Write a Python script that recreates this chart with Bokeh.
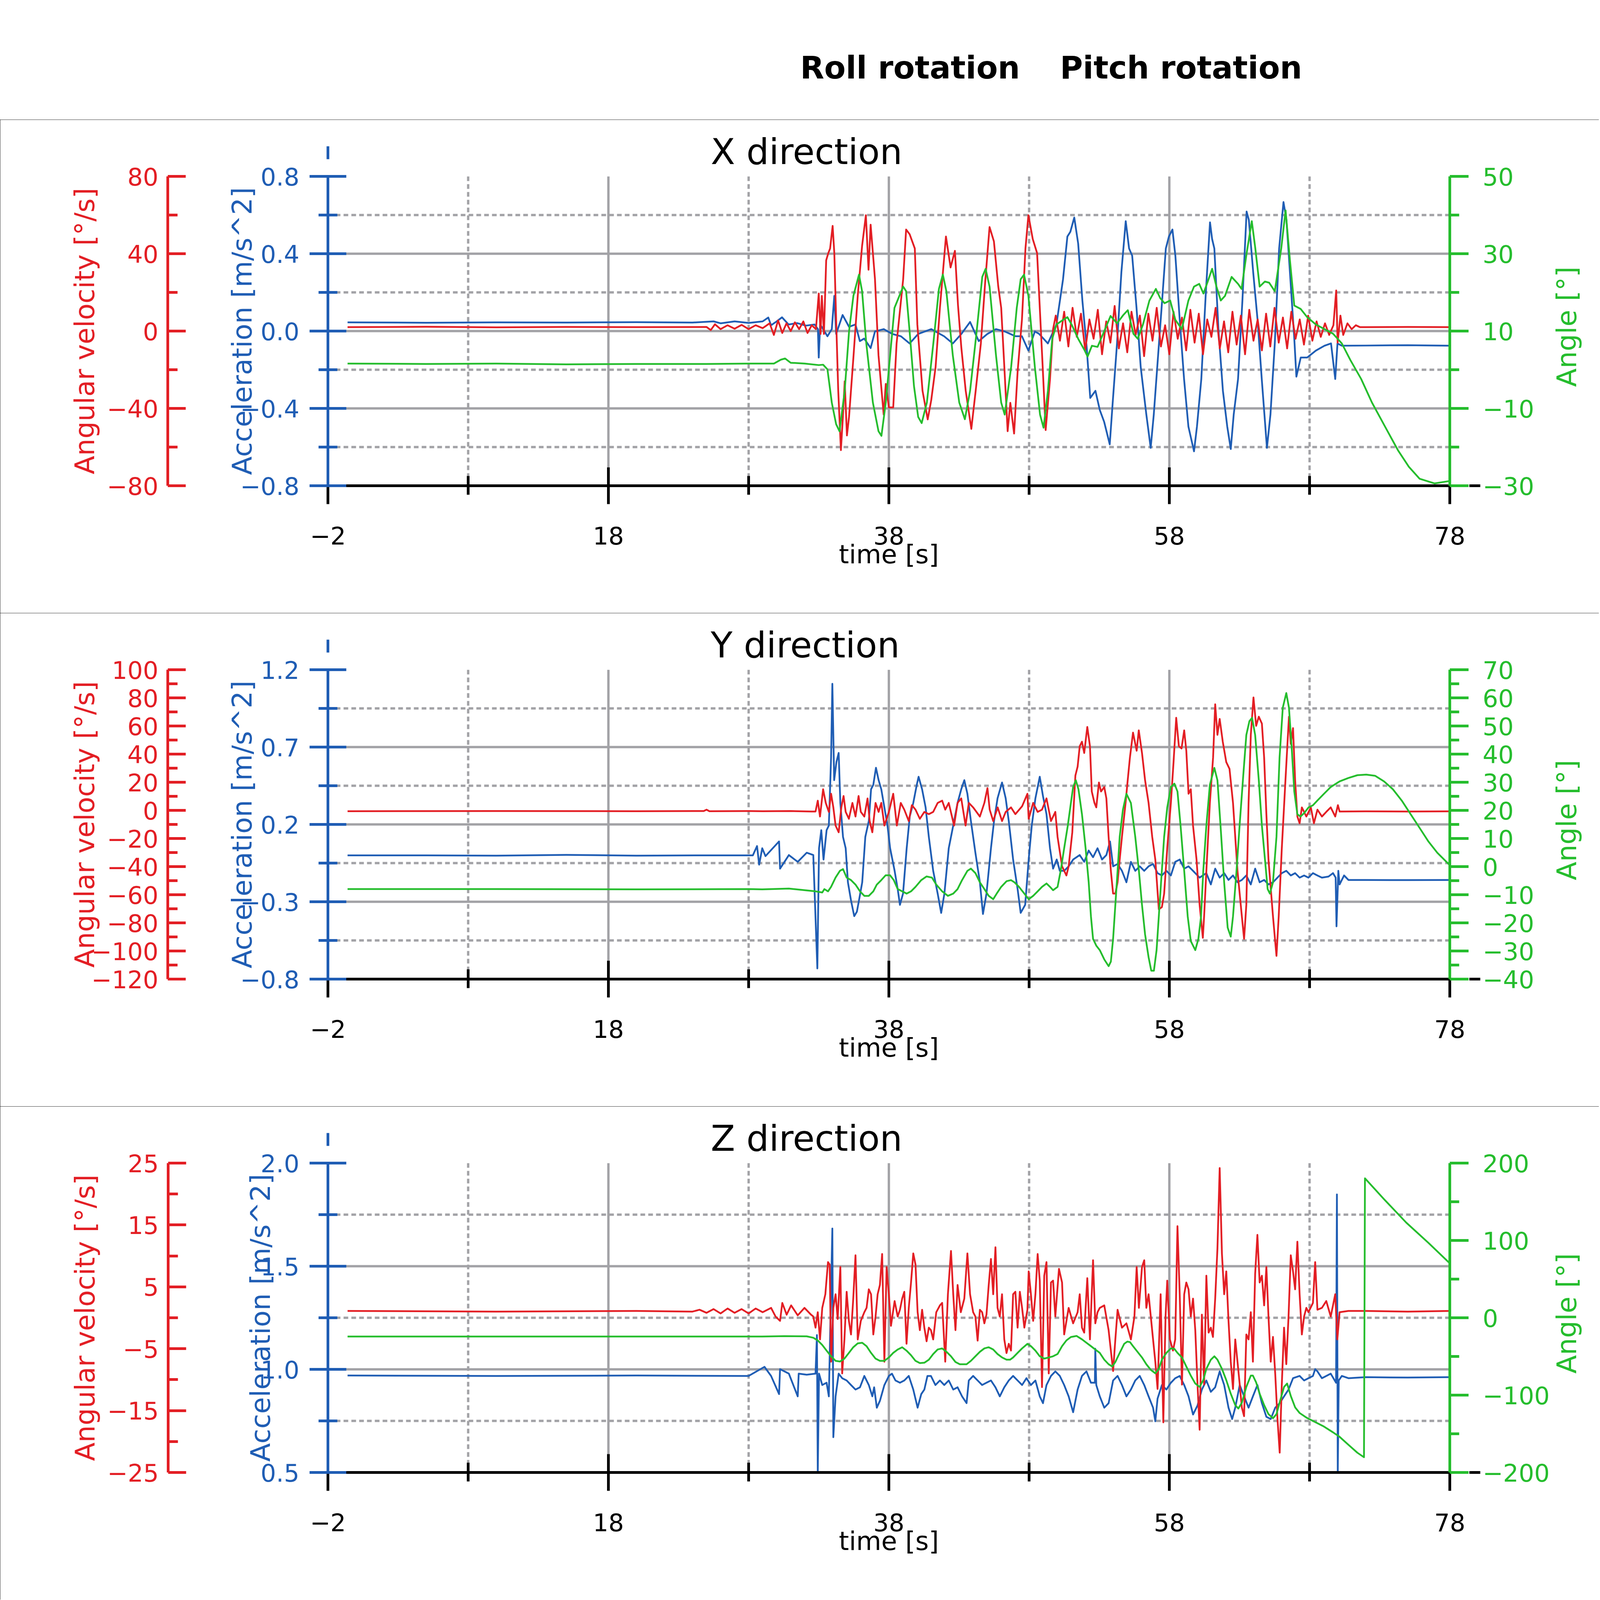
import math
from bokeh.plotting import figure
from bokeh.models import Range1d, LinearAxis, FixedTicker, Label, Arrow, NormalHead, TeeHead, Grid
from bokeh.layouts import column
from bokeh.embed import file_html
from bokeh.resources import INLINE

RED = "#e31e24"
BLUE = "#1f5db4"
GREEN = "#25bd2d"
GRAY = "#a2a2a6"
FONT = "DejaVu Sans"

legend_labels = ["Roll rotation", "Pitch rotation"]
panel_titles = ["X direction", "Y direction", "Z direction"]
time_label = "time [s]"
gyro_label = "Angular velocity [°/s]"
acc_label = "Acceleration [m/s^2]"
angle_label = "Angle [°]"

time_ticks = [-2, 18, 38, 58, 78]
time_minor = [8, 28, 48, 68]
time_tick_labels = ["−2", "18", "38", "58", "78"]

# ---------------- X direction ----------------
x_acc_ticks = [-0.8, -0.4, 0.0, 0.4, 0.8]
x_acc_minor = [-0.6, -0.2, 0.2, 0.6]
x_acc_labels = ["−0.8", "−0.4", "0.0", "0.4", "0.8"]
x_gyro_ticks = [-80, -40, 0, 40, 80]
x_gyro_minor = [-60, -20, 20, 60]
x_gyro_labels = ["−80", "−40", "0", "40", "80"]
x_ang_ticks = [-30, -10, 10, 30, 50]
x_ang_minor = [-20, 0, 20, 40]
x_ang_labels = ["−30", "−10", "10", "30", "50"]

x_gyro = [(-0.6, 2.0), (5, 2.2), (10, 1.9), (15, 2.1), (20, 2.0), (25, 2.1), (25.3, 0.5), (25.6, 3.5), (26, 1.0),
          (26.5, 3.0), (27, 1.2), (27.5, 3.2), (28, 1.0), (28.5, 3.0), (29, 1.5), (29.5, 4.0), (29.8, -2.0),
          (30.1, 5.5), (30.4, -1.0), (30.7, 4.0), (31.0, 0.0), (31.3, 4.5), (31.6, 1.0), (31.9, 5.0), (32.2, -1.0),
          (32.5, 3.0), (32.8, 1.0), (33.0, 19.4), (33.13, -1.5), (33.22, 18.2), (33.37, -1.5), (33.53, 36.6),
          (33.68, 40.3), (33.81, 42.7), (33.99, 54.4), (34.11, 40.3), (34.24, 5.9), (34.39, -30.9), (34.58, -61.6),
          (34.73, -43.2), (34.85, -26.0), (35.01, -54.0), (35.16, -44.4), (35.47, -13.8), (35.78, 18.2),
          (36.09, 44.0), (36.36, 59.9), (36.55, 31.7), (36.70, 55.0), (37.01, 26.8), (37.26, -12.5), (37.63, -43.2),
          (37.78, -27.3), (38.0, -39.5), (38.31, -39.5), (38.55, -6.4), (39.02, 26.8), (39.23, 52.5), (39.48, 50.1),
          (39.85, 42.7), (40.03, 3.4), (40.40, -30.9), (40.77, -45.7), (41.02, -35.8), (41.33, -18.7), (41.64, 12.0),
          (42.07, 48.9), (42.40, 32.9), (42.71, 41.5), (42.93, 13.3), (43.17, -8.8), (43.48, -30.9), (43.88, -50.6),
          (44.19, -30.9), (44.56, -6.4), (44.87, 25.5), (45.18, 53.8), (45.49, 46.4), (45.80, 23.1), (46.01, 12.0),
          (46.20, -13.8), (46.47, -51.8), (46.66, -37.1), (46.93, -53.0), (47.18, -21.1), (47.49, 5.9), (47.74, 42.7),
          (47.95, 59.9), (48.26, 47.6), (48.57, 40.3), (48.72, 18.2), (48.97, -18.7), (49.18, -51.2), (49.49, -24.8),
          (49.71, 1.0), (49.9, 8), (50.2, -5), (50.5, 10), (50.8, -8), (51.1, 12), (51.4, -3), (51.7, 9), (52.0, -10),
          (52.3, 6), (52.6, -4), (52.9, 11), (53.2, -12), (53.5, 5), (53.8, -6), (54.1, 13), (54.4, -9), (54.7, 4),
          (55.0, -11), (55.3, 10), (55.6, -2), (55.9, 8), (56.2, -13), (56.5, 9), (56.8, -5), (57.1, 12), (57.4, -8),
          (57.7, 3), (58.0, -12), (58.3, 10), (58.6, -4), (58.9, 7), (59.2, -10), (59.5, 11), (59.8, -6), (60.1, 9),
          (60.4, -12), (60.7, 6), (61.0, -3), (61.3, 12), (61.6, -9), (61.9, 5), (62.2, -11), (62.5, 10), (62.8, -7),
          (63.1, 8), (63.4, -12), (63.7, 11), (64.0, -5), (64.3, 6), (64.6, -10), (64.9, 9), (65.2, -8), (65.5, 12),
          (65.8, -6), (66.1, 7), (66.4, -9), (66.7, 10), (67.0, -4), (67.3, 6), (67.6, -7), (67.9, 8), (68.2, -5),
          (68.5, 5), (68.8, -3), (69.1, 4), (69.4, -2), (69.7, 3), (69.9, 21), (70.0, -6), (70.2, 8), (70.4, -2),
          (70.7, 4), (71.0, 1), (71.3, 3), (71.6, 2), (72, 2.0), (75, 2.1), (78, 2.0)]

x_acc = [(-0.6, 0.045), (5, 0.043), (10, 0.045), (15, 0.044), (20, 0.046), (24, 0.044), (25.5, 0.05), (26, 0.04),
         (27, 0.05), (28, 0.042), (29, 0.05), (29.4, 0.07), (29.6, 0.03), (30.0, 0.05), (30.38, 0.071),
         (30.85, 0.034), (31.46, 0.041), (32.08, 0.028), (32.70, 0.034), (32.94, 0.01), (33.0, -0.137),
         (33.10, 0.034), (33.31, 0.01), (33.62, -0.027), (33.93, 0.01), (34.11, 0.182), (34.24, -0.015),
         (34.70, 0.083), (35.16, 0.022), (35.62, 0.034), (35.93, -0.052), (36.24, -0.039), (36.70, -0.088),
         (37.01, -0.002), (37.63, 0.01), (38.25, -0.015), (38.86, -0.027), (39.48, -0.064), (40.09, -0.015),
         (41.02, 0.01), (41.94, -0.027), (42.56, -0.064), (43.17, -0.015), (43.79, 0.047), (44.41, -0.052),
         (45.02, -0.015), (45.64, 0.01), (46.26, -0.002), (47.03, -0.027), (47.49, -0.027), (47.95, -0.101),
         (48.41, -0.002), (48.72, -0.015), (49.34, -0.064), (49.95, 0.034), (50.42, 0.268), (50.73, 0.489),
         (50.94, 0.513), (51.22, 0.587), (51.50, 0.452), (51.80, 0.157), (52.11, -0.088), (52.36, -0.346),
         (52.73, -0.309), (53.04, -0.408), (53.35, -0.469), (53.75, -0.586), (53.96, -0.371), (54.27, -0.064),
         (54.58, 0.304), (54.89, 0.568), (55.13, 0.427), (55.35, 0.39), (55.66, 0.12), (55.96, -0.187),
         (56.36, -0.432), (56.67, -0.604), (56.89, -0.432), (57.20, -0.125), (57.51, 0.182), (57.75, 0.427),
         (57.97, 0.489), (58.22, 0.525), (58.43, 0.39), (58.74, 0.059), (59.05, -0.248), (59.36, -0.494),
         (59.76, -0.622), (59.97, -0.494), (60.28, -0.248), (60.59, 0.182), (60.90, 0.562), (61.05, 0.476),
         (61.21, 0.427), (61.51, -0.002), (61.82, -0.309), (62.13, -0.494), (62.38, -0.61), (62.59, -0.432),
         (62.90, -0.248), (63.21, 0.157), (63.51, 0.618), (63.67, 0.575), (63.98, 0.304), (64.29, 0.059),
         (64.59, -0.248), (64.96, -0.604), (65.21, -0.432), (65.52, -0.064), (65.83, 0.427), (66.14, 0.667),
         (66.35, 0.575), (66.60, 0.304), (66.91, -0.039), (67.06, -0.236), (67.37, -0.137), (67.83, -0.137),
         (68.45, -0.101), (69.06, -0.076), (69.53, -0.064), (69.83, -0.248), (69.99, -0.064), (70.30, -0.076),
         (72, -0.075), (75, -0.073), (78, -0.076)]

x_ang = [(-0.6, 1.6), (5, 1.5), (10, 1.6), (15, 1.4), (20, 1.5), (25, 1.5), (28, 1.6), (29.8, 1.6), (30.3, 2.6),
         (30.6, 2.9), (31, 1.8), (32, 1.6), (33, 1.2), (33.31, 1.3), (33.62, 0.1), (33.93, -8.5), (34.24, -14.1),
         (34.48, -15.9), (34.85, -5.5), (35.16, 9.9), (35.47, 19.1), (35.87, 24.6), (36.09, 20.3), (36.39, 6.8),
         (36.86, -8.5), (37.26, -15.9), (37.47, -17.1), (37.78, -8.5), (38.09, 3.7), (38.40, 16.0), (39.02, 21.5),
         (39.23, 20.3), (39.48, 9.9), (39.79, -4.2), (40.09, -12.2), (40.34, -13.8), (40.71, -8.5), (41.17, 6.8),
         (41.57, 20.9), (41.85, 24.6), (42.10, 20.3), (42.56, 3.7), (43.02, -8.5), (43.42, -12.8), (43.79, -5.5),
         (44.26, 9.9), (44.66, 24.0), (44.90, 26.1), (45.18, 21.5), (45.64, 3.7), (46.01, -8.5), (46.26, -11.6),
         (46.72, 0.7), (47.12, 16.0), (47.40, 23.4), (47.64, 24.6), (47.95, 19.1), (48.41, 0.7), (48.78, -11.6),
         (49.03, -15.0), (49.34, -5.5), (49.65, 8.0), (49.95, 11.7), (50.42, 12.9), (50.73, 13.6), (51.03, 11.7),
         (51.50, 8.0), (51.96, 5.0), (52.17, 3.4), (52.48, 6.2), (52.88, 5.9), (53.35, 9.9), (53.81, 13.9),
         (54.27, 12.0), (54.73, 14.2), (55.04, 15.4), (55.44, 9.3), (55.75, 8.0), (56.12, 11.7), (56.58, 17.9),
         (57.04, 20.9), (57.35, 18.5), (57.66, 17.2), (58.06, 17.9), (58.43, 12.9), (58.89, 10.5), (59.36, 17.9),
         (59.76, 21.5), (60.13, 22.2), (60.43, 19.7), (60.74, 22.8), (61.05, 26.1), (61.36, 21.5), (61.67, 17.9),
         (61.97, 19.1), (62.44, 24.0), (62.90, 22.2), (63.15, 20.9), (63.51, 30.1), (63.88, 38.4), (64.13, 31.4),
         (64.44, 21.5), (64.81, 22.8), (65.12, 22.5), (65.52, 20.3), (65.98, 31.4), (66.29, 41.2), (66.60, 28.3),
         (66.91, 16.6), (67.37, 15.7), (67.83, 13.6), (68.45, 11.7), (69.06, 10.5), (69.68, 9.3), (70.30, 6.8),
         (70.91, 2.5), (71.68, -2.4), (72.45, -8.5), (73.38, -14.7), (74.30, -20.8), (75.08, -25.1), (75.85, -28.2),
         (76.92, -29.4), (77.94, -28.8)]

# ---------------- Y direction ----------------
y_acc_ticks = [-0.8, -0.3, 0.2, 0.7, 1.2]
y_acc_minor = [-0.55, -0.05, 0.45, 0.95]
y_acc_labels = ["−0.8", "−0.3", "0.2", "0.7", "1.2"]
y_gyro_ticks = [-120, -100, -80, -60, -40, -20, 0, 20, 40, 60, 80, 100]
y_gyro_minor = [-110, -90, -70, -50, -30, -10, 10, 30, 50, 70, 90]
y_gyro_labels = ["−120", "−100", "−80", "−60", "−40", "−20", "0", "20", "40", "60", "80", "100"]
y_ang_ticks = [-40, -30, -20, -10, 0, 10, 20, 30, 40, 50, 60, 70]
y_ang_minor = [-35, -25, -15, -5, 5, 15, 25, 35, 45, 55, 65]
y_ang_labels = ["−40", "−30", "−20", "−10", "0", "10", "20", "30", "40", "50", "60", "70"]

y_gyro = [(-0.6, -0.6), (10, -0.5), (20, -0.6), (24.8, -0.5), (25.0, 0.5), (25.2, -0.6), (28, -0.5), (29, -0.6),
          (31, -0.5), (32.5, -0.8), (32.77, -0.8), (32.93, 6.9), (33.09, -4.4), (33.31, 15.0), (33.50, 5.3),
          (33.72, -1.1), (33.88, 11.8), (34.04, 2.1), (34.20, -10.8), (34.42, -15.6), (34.61, 2.1), (34.77, 10.2),
          (34.92, -1.1), (35.15, -6.0), (35.40, 5.3), (35.62, -4.4), (35.84, 10.2), (36.00, -1.1), (36.25, -4.4),
          (36.48, 8.5), (36.63, -7.6), (36.82, -15.6), (37.05, 5.3), (37.27, -1.1), (37.46, 5.3), (37.68, -10.8),
          (38.00, -1.1), (38.31, 11.8), (38.57, -10.8), (38.85, 5.3), (39.10, 0.5), (39.42, -7.6), (39.64, 3.7),
          (39.90, 0.5), (40.21, -6.0), (40.53, -1.1), (40.85, -2.7), (41.16, -1.1), (41.48, 5.3), (41.80, 6.9),
          (42.02, 0.5), (42.27, 5.3), (42.65, -10.8), (42.90, 5.3), (43.16, 8.5), (43.47, -10.8), (43.70, 5.3),
          (44.01, 2.1), (44.49, -4.4), (44.81, 5.3), (45.03, 15.8), (45.19, 0.5), (45.44, -7.6), (45.76, 2.1),
          (46.07, -7.6), (46.33, -1.1), (46.71, 2.1), (47.02, -2.7), (47.50, 2.9), (47.88, 11.8), (47.97, -6.0),
          (48.29, 5.3), (48.61, -1.1), (48.92, 0.5), (49.24, 8.5), (49.56, -7.6), (49.87, -1.1), (50.03, -18.9),
          (50.35, -39.8), (50.66, -46.3), (50.82, -39.8), (51.08, -15.6), (51.30, 24.7), (51.46, 31.1),
          (51.61, 45.6), (51.77, 48.8), (51.93, 40.8), (52.15, 59.3), (52.34, 45.6), (52.47, 13.4), (52.66, 5.3),
          (52.79, 2.1), (52.98, 19.8), (53.13, 13.4), (53.36, 16.6), (53.51, 8.5), (53.67, -18.9), (53.83, -43.0),
          (53.99, -59.2), (54.15, -59.2), (54.31, -51.1), (54.46, -35.0), (54.62, -18.9), (54.88, 5.3),
          (55.00, 18.2), (55.19, 37.6), (55.41, 55.3), (55.67, 42.4), (55.82, 56.9), (56.05, 40.8), (56.27, 21.4),
          (56.52, 5.3), (56.78, -18.9), (57.00, -35.0), (57.25, -70.4), (57.47, -68.8), (57.63, -59.2),
          (57.85, -26.9), (58.11, 5.3), (58.30, 34.3), (58.49, 65.8), (58.68, 45.6), (58.87, 44.0), (59.06, 56.9),
          (59.21, 42.4), (59.37, 11.8), (59.53, 15.0), (59.69, -10.8), (59.94, -35.0), (60.16, -67.2),
          (60.39, -90.6), (60.48, -75.3), (60.64, -43.0), (60.89, 5.3), (61.12, 37.6), (61.27, 75.4), (61.43, 53.7),
          (61.59, 65.0), (61.81, 48.8), (62.06, 34.3), (62.29, 29.5), (62.54, 5.3), (62.86, -43.0), (63.17, -75.3),
          (63.33, -91.4), (63.49, -67.2), (63.65, 5.3), (63.81, 53.7), (64.00, 80.3), (64.19, 60.1), (64.38, 66.6),
          (64.60, 61.7), (64.76, 37.6), (64.92, -2.7), (65.07, -35.0), (65.39, -75.3), (65.64, -103.5),
          (65.80, -75.3), (66.02, -26.9), (66.28, 21.4), (66.53, 66.6), (66.66, 47.2), (66.82, 58.5), (66.97, 21.4),
          (67.13, -4.4), (67.29, -9.2), (67.45, 2.1), (67.77, -4.4), (68.09, 2.1), (68.31, -9.2), (68.56, 0.5),
          (68.88, -4.4), (69.19, -1.1), (69.51, 2.1), (69.83, -4.4), (70.02, 3.7), (70.14, -0.8), (72, -0.7),
          (75, -0.8), (78, -0.7)]

y_acc = [(-0.6, 0.0), (5, 0.0), (10, -0.002), (15, 0.003), (20, -0.002), (25, 0.0), (28.3, 0.0), (28.6, 0.06),
         (28.75, -0.06), (28.97, 0.046), (29.2, -0.005), (30.17, 0.09), (30.24, -0.086), (30.87, 0.002),
         (31.50, -0.042), (32.14, 0.017), (32.61, 0.002), (32.90, -0.731), (33.02, 0.046), (33.18, 0.163),
         (33.34, -0.027), (33.56, 0.163), (33.72, 0.193), (33.88, 0.632), (33.97, 1.109), (34.10, 0.486),
         (34.26, 0.603), (34.42, 0.662), (34.54, 0.339), (34.73, 0.119), (34.92, 0.046), (35.08, -0.174),
         (35.30, -0.291), (35.53, -0.393), (35.72, -0.364), (35.87, -0.291), (36.10, -0.174), (36.32, 0.119),
         (36.57, 0.222), (36.73, 0.427), (36.89, 0.456), (37.08, 0.566), (37.27, 0.486), (37.46, 0.427),
         (37.68, 0.310), (37.90, 0.193), (38.09, 0.046), (38.41, -0.100), (38.63, -0.218), (38.79, -0.320),
         (39.01, -0.247), (39.27, 0.046), (39.49, 0.251), (39.74, 0.339), (39.99, 0.456), (40.12, 0.508),
         (40.37, 0.427), (40.62, 0.310), (40.85, 0.119), (41.16, -0.100), (41.48, -0.247), (41.73, -0.372),
         (41.96, -0.247), (42.27, 0.046), (42.59, 0.193), (42.90, 0.339), (43.16, 0.427), (43.38, 0.486),
         (43.60, 0.398), (43.85, 0.222), (44.17, 0.017), (44.49, -0.174), (44.71, -0.379), (44.96, -0.247),
         (45.28, 0.046), (45.50, 0.222), (45.75, 0.369), (46.07, 0.471), (46.33, 0.369), (46.55, 0.222),
         (46.86, -0.027), (47.18, -0.218), (47.40, -0.372), (47.72, -0.320), (47.97, -0.027), (48.19, 0.193),
         (48.45, 0.369), (48.76, 0.508), (48.99, 0.383), (49.24, 0.266), (49.49, 0.046), (49.71, -0.086),
         (49.97, -0.027), (50.19, -0.100), (50.50, -0.100), (50.82, -0.071), (51.14, -0.027), (51.61, 0.002),
         (51.93, -0.042), (52.25, 0.031), (52.56, -0.012), (52.88, 0.046), (53.20, -0.027), (53.51, 0.002),
         (53.77, 0.090), (53.99, -0.071), (54.31, -0.056), (54.62, -0.100), (54.94, -0.174), (55.26, -0.042),
         (55.57, -0.100), (55.89, -0.071), (56.21, -0.100), (56.52, -0.071), (56.84, -0.056), (57.16, -0.115),
         (57.47, -0.130), (57.79, -0.100), (58.11, -0.130), (58.42, -0.042), (58.74, -0.027), (59.06, -0.086),
         (59.37, -0.071), (59.69, -0.100), (60.16, -0.144), (60.64, -0.115), (60.96, -0.188), (61.27, -0.086),
         (61.59, -0.144), (61.91, -0.115), (62.22, -0.159), (62.54, -0.130), (62.86, -0.174), (63.17, -0.159),
         (63.49, -0.130), (63.81, -0.188), (64.12, -0.086), (64.44, -0.174), (64.76, -0.159), (65.07, -0.188),
         (65.39, -0.174), (65.71, -0.144), (66.02, -0.115), (66.34, -0.100), (66.66, -0.130), (66.97, -0.115),
         (67.29, -0.144), (67.61, -0.130), (67.92, -0.144), (68.24, -0.115), (68.56, -0.130), (68.88, -0.144),
         (69.35, -0.137), (69.67, -0.115), (69.86, -0.144), (69.92, -0.459), (70.05, -0.100), (70.14, -0.188),
         (70.46, -0.130), (70.77, -0.159), (72, -0.159), (75, -0.16), (78, -0.159)]

y_ang = [(-0.6, -8.0), (10, -8.0), (20, -8.1), (28, -8.0), (28.97, -8.1), (30.87, -7.8), (32.77, -8.8),
         (33.25, -9.2), (33.40, -8.0), (33.66, -8.8), (33.88, -7.2), (34.20, -3.9), (34.51, -1.5), (34.73, -0.9),
         (34.99, -3.9), (35.30, -4.8), (35.62, -6.4), (35.94, -8.8), (36.25, -10.4), (36.57, -10.4), (36.89, -8.8),
         (37.14, -6.4), (37.46, -4.8), (37.77, -3.1), (38.09, -3.1), (38.35, -4.8), (38.63, -8.0), (38.95, -8.8),
         (39.27, -9.6), (39.58, -8.8), (39.90, -7.2), (40.31, -4.8), (40.69, -3.5), (41.07, -3.9), (41.38, -6.4),
         (41.80, -8.8), (42.21, -10.4), (42.59, -9.6), (42.90, -8.0), (43.22, -4.8), (43.60, -1.5), (43.85, -0.7),
         (44.17, -2.3), (44.49, -5.6), (44.81, -8.0), (45.12, -10.4), (45.44, -11.6), (45.69, -9.6), (46.01, -7.2),
         (46.39, -5.2), (46.71, -4.8), (46.96, -5.6), (47.28, -7.2), (47.66, -9.6), (47.97, -11.6), (48.29, -10.4),
         (48.61, -8.8), (48.92, -7.2), (49.24, -6.0), (49.49, -7.2), (49.71, -8.4), (50.03, -7.2), (50.25, -1.5),
         (50.50, 6.5), (50.76, 14.6), (50.98, 22.6), (51.14, 28.3), (51.33, 30.7), (51.52, 27.5), (51.77, 18.6),
         (52.03, 6.5), (52.25, -5.6), (52.41, -17.7), (52.56, -25.7), (52.79, -28.1), (53.04, -29.7), (53.36, -33.0),
         (53.67, -35.4), (53.83, -33.8), (53.99, -25.7), (54.15, -13.6), (54.31, -1.5), (54.46, 10.6), (54.69, 20.2),
         (54.94, 25.9), (55.26, 22.6), (55.57, 10.6), (55.83, -1.5), (56.05, -13.6), (56.27, -24.1), (56.52, -32.2),
         (56.71, -37.0), (56.90, -37.0), (57.09, -29.7), (57.25, -17.7), (57.41, -5.6), (57.63, 10.6), (57.85, 21.0),
         (58.11, 28.3), (58.36, 29.5), (58.58, 26.7), (58.80, 14.6), (59.06, -1.5), (59.31, -17.7), (59.53, -26.5),
         (59.85, -29.7), (60.07, -25.7), (60.26, -17.7), (60.42, -1.5), (60.64, 14.6), (60.89, 29.1), (61.21, 35.1),
         (61.43, 30.7), (61.65, 14.6), (61.91, -5.6), (62.16, -21.7), (62.38, -24.9), (62.54, -17.7), (62.79, -1.5),
         (63.01, 14.6), (63.27, 32.3), (63.49, 46.8), (63.71, 51.7), (63.90, 52.9), (64.12, 46.8), (64.38, 30.7),
         (64.60, 14.6), (64.82, 2.5), (65.01, -8.0), (65.17, -9.6), (65.39, -5.6), (65.64, 10.6), (65.86, 38.8),
         (66.09, 56.5), (66.34, 61.7), (66.53, 56.5), (66.72, 42.8), (66.91, 26.7), (67.13, 18.6), (67.35, 17.8),
         (67.61, 19.0), (67.92, 21.0), (68.24, 21.8), (68.56, 23.5), (69.03, 25.9), (69.51, 28.3), (70.14, 30.3),
         (70.77, 31.5), (71.41, 32.5), (72.04, 32.7), (72.67, 32.3), (73.31, 30.3), (73.94, 27.5), (74.57, 23.5),
         (75.21, 18.6), (75.84, 13.8), (76.48, 8.9), (77.11, 4.9), (78.0, 0.5)]

# ---------------- Z direction ----------------
z_acc_ticks = [0.5, 1.0, 1.5, 2.0]
z_acc_minor = [0.75, 1.25, 1.75]
z_acc_labels = ["0.5", "1.0", "1.5", "2.0"]
z_gyro_ticks = [-25, -15, -5, 5, 15, 25]
z_gyro_minor = [-20, -10, 0, 10, 20]
z_gyro_labels = ["−25", "−15", "−5", "5", "15", "25"]
z_ang_ticks = [-200, -100, 0, 100, 200]
z_ang_minor = [-150, -50, 50, 150]
z_ang_labels = ["−200", "−100", "0", "100", "200"]

z_gyro = [(-0.6, 1.1), (10, 1.0), (20, 1.1), (24, 1.0), (24.5, 1.3), (25, 0.8), (25.5, 1.4), (26, 0.7), (26.5, 1.5),
          (27, 0.8), (27.5, 1.4), (28, 0.7), (28.5, 1.5), (29, 0.9), (29.60, 1.6), (29.92, 0.2), (30.24, -0.5),
          (30.40, 2.4), (30.71, 0.5), (31.03, 2.0), (31.50, 0.4), (31.98, 1.6), (32.45, 0.5), (32.61, 0.2),
          (32.77, -1.6), (32.93, 0.9), (33.09, -3.5), (33.25, 1.6), (33.47, 3.8), (33.66, 9.0), (33.78, 8.6),
          (33.88, -7.1), (34.04, 1.6), (34.20, 3.8), (34.35, -0.2), (34.54, 8.2), (34.67, -9.0), (34.83, -3.5),
          (34.99, 4.2), (35.15, -0.5), (35.30, -2.7), (35.46, 3.1), (35.62, 10.1), (35.78, -3.5), (36.00, -0.5),
          (36.25, 0.9), (36.41, 1.6), (36.57, 4.6), (36.73, 3.8), (36.89, -2.7), (37.05, 0.2), (37.20, 3.8),
          (37.36, 5.3), (37.52, 10.3), (37.68, -7.1), (37.84, 8.2), (38.00, 3.8), (38.15, -1.3), (38.41, 2.7),
          (38.63, 0.2), (38.79, 1.3), (38.95, 3.1), (39.10, 4.2), (39.26, -4.2), (39.42, 1.6), (39.58, 5.7),
          (39.74, 10.4), (39.90, 8.6), (40.05, 0.9), (40.21, -2.0), (40.37, 1.3), (40.53, -1.6), (40.69, -3.8),
          (40.85, -1.6), (41.00, -2.0), (41.16, -3.5), (41.38, 0.9), (41.64, 2.0), (41.80, 2.4), (42.02, -7.1),
          (42.21, 3.8), (42.43, 10.8), (42.59, 3.8), (42.75, -2.0), (42.90, 5.3), (43.13, 0.9), (43.38, 3.1),
          (43.60, 10.4), (43.79, 3.8), (44.01, 0.9), (44.17, 0.2), (44.33, -3.7), (44.49, 1.3), (44.65, 0.9),
          (44.81, -0.9), (44.96, 0.5), (45.12, 5.3), (45.28, 9.5), (45.44, 3.8), (45.60, 11.4), (45.75, 1.6),
          (45.91, 0.2), (46.07, 3.8), (46.23, -3.5), (46.39, -5.7), (46.55, -4.2), (46.71, -5.3), (46.86, 3.8),
          (47.02, 4.2), (47.18, -1.6), (47.34, 4.2), (47.50, 1.6), (47.66, -1.6), (47.88, 1.3), (47.97, 7.5),
          (48.13, 3.8), (48.29, -0.5), (48.45, 3.8), (48.61, 10.3), (48.76, 6.0), (48.92, -11.2), (49.08, 6.8),
          (49.24, 9.0), (49.40, -9.0), (49.56, 5.7), (49.71, 6.0), (49.87, 0.2), (50.13, 7.9), (50.35, 5.7),
          (50.50, -2.7), (50.82, 1.6), (51.14, -0.9), (51.46, 0.9), (51.61, 3.8), (51.77, -1.6), (51.93, -2.4),
          (52.15, 6.4), (52.34, -3.5), (52.56, 9.3), (52.72, -0.9), (52.88, 0.9), (53.04, 1.6), (53.36, 2.0),
          (53.67, -2.0), (53.99, -8.6), (54.15, -3.5), (54.31, 1.3), (54.62, -1.6), (54.94, -0.9), (55.26, -3.5),
          (55.51, 0.2), (55.67, 8.2), (55.83, 1.6), (56.05, 8.2), (56.21, 9.3), (56.36, 1.6), (56.52, 3.8),
          (56.84, -3.5), (57.00, -7.1), (57.16, -11.5), (57.38, 3.8), (57.57, -16.9), (57.73, 0.2), (57.85, 6.0),
          (58.04, -3.5), (58.26, -5.3), (58.42, -3.5), (58.58, 14.8), (58.74, 3.8), (58.90, -10.8), (59.06, 3.8),
          (59.21, 5.7), (59.37, 4.6), (59.53, 0.2), (59.69, 3.1), (59.85, -2.0), (60.01, -10.8), (60.16, -18.1),
          (60.32, 0.5), (60.48, -10.8), (60.64, 6.8), (60.80, -2.4), (60.96, -1.6), (61.11, -3.1), (61.27, 3.1),
          (61.43, 11.2), (61.59, 24.2), (61.75, 10.4), (61.91, 3.8), (62.06, 7.5), (62.22, -0.5), (62.38, -7.1),
          (62.54, -11.5), (62.70, -3.5), (62.86, -7.1), (63.02, -10.8), (63.17, -14.5), (63.33, -15.9),
          (63.49, -2.7), (63.65, -3.5), (63.81, 0.9), (63.96, -7.1), (64.12, 7.1), (64.28, 13.4), (64.44, 5.7),
          (64.60, 6.8), (64.76, 2.0), (64.92, 8.2), (65.07, 0.2), (65.23, -7.1), (65.39, -3.1), (65.55, -9.0),
          (65.71, -16.3), (65.87, -21.8), (66.02, -10.8), (66.18, -1.6), (66.34, -7.5), (66.50, 0.2), (66.66, 10.1),
          (66.82, 7.5), (66.97, 4.6), (67.13, 12.3), (67.29, 3.8), (67.45, -2.7), (67.61, 0.2), (67.77, 1.6),
          (67.92, 0.9), (68.24, 2.4), (68.40, 9.0), (68.56, 1.3), (68.88, 1.6), (69.19, 2.7), (69.51, 0.2),
          (69.83, 3.8), (69.98, -3.5), (70.14, 0.9), (70.77, 1.1), (72, 1.1), (75, 1.0), (78, 1.1)]

z_acc = [(-0.6, 0.97), (10, 0.968), (20, 0.97), (28, 0.968), (29.13, 1.012), (29.60, 0.968), (30.17, 0.880),
         (30.24, 1.001), (30.87, 0.979), (31.50, 0.869), (31.57, 0.979), (32.14, 0.974), (32.77, 0.979),
         (32.87, 1.166), (32.93, 0.495), (33.02, 0.979), (33.25, 0.924), (33.56, 0.935), (33.72, 0.869),
         (33.97, 1.683), (34.04, 0.671), (34.20, 0.869), (34.42, 0.979), (34.67, 0.957), (34.99, 0.946),
         (35.30, 0.924), (35.62, 0.902), (35.94, 0.913), (36.25, 0.968), (36.57, 0.924), (36.82, 0.869),
         (36.95, 0.913), (37.14, 0.814), (37.36, 0.847), (37.68, 0.924), (38.00, 0.968), (38.22, 0.979),
         (38.47, 0.946), (38.79, 0.935), (39.10, 0.946), (39.42, 0.968), (39.74, 0.902), (40.05, 0.814),
         (40.31, 0.880), (40.53, 0.902), (40.75, 0.968), (41.00, 0.968), (41.32, 0.924), (41.64, 0.946),
         (41.95, 0.924), (42.27, 0.946), (42.59, 0.902), (42.90, 0.913), (43.22, 0.869), (43.54, 0.836),
         (43.70, 0.946), (44.01, 0.968), (44.33, 0.946), (44.65, 0.924), (44.96, 0.935), (45.28, 0.946),
         (45.60, 0.913), (45.91, 0.869), (46.23, 0.913), (46.55, 0.946), (46.86, 0.968), (47.18, 0.946),
         (47.50, 0.924), (47.81, 0.957), (48.13, 0.924), (48.45, 0.946), (48.76, 0.869), (48.99, 0.836),
         (49.24, 0.924), (49.56, 0.968), (49.87, 0.990), (50.19, 0.968), (50.50, 0.924), (50.82, 0.869),
         (51.14, 0.792), (51.46, 0.902), (51.77, 0.968), (52.09, 0.990), (52.41, 0.935), (52.69, 0.935),
         (52.72, 1.100), (52.79, 0.924), (53.04, 0.869), (53.36, 0.814), (53.67, 0.836), (53.99, 0.946),
         (54.31, 0.968), (54.62, 0.924), (54.94, 0.869), (55.26, 0.902), (55.57, 0.946), (55.89, 0.968),
         (56.21, 0.924), (56.52, 0.869), (56.84, 0.814), (57.00, 0.748), (57.16, 0.858), (57.47, 0.924),
         (57.79, 0.902), (58.11, 0.935), (58.42, 0.957), (58.74, 0.968), (59.06, 0.924), (59.37, 0.869),
         (59.69, 0.781), (60.01, 0.825), (60.32, 0.902), (60.64, 0.946), (60.96, 0.891), (61.27, 0.913),
         (61.59, 0.990), (61.91, 0.924), (62.22, 0.814), (62.48, 0.759), (62.70, 0.814), (63.02, 0.924),
         (63.33, 0.869), (63.65, 0.814), (63.96, 0.869), (64.28, 0.924), (64.60, 0.836), (64.92, 0.770),
         (65.23, 0.759), (65.55, 0.814), (65.87, 0.836), (66.18, 0.869), (66.50, 0.902), (66.82, 0.957),
         (67.29, 0.968), (67.61, 0.946), (67.92, 0.957), (68.24, 0.968), (68.40, 1.001), (68.56, 0.990),
         (68.88, 0.957), (69.19, 0.968), (69.51, 0.979), (69.89, 0.935), (69.95, 1.848), (70.01, 0.495),
         (70.08, 0.946), (70.30, 0.968), (70.77, 0.957), (72, 0.962), (75, 0.960), (78, 0.962)]

z_ang = [(-0.6, -24.3), (10, -24.3), (20, -24.2), (28, -24.3), (28.97, -24.3), (30.55, -23.7), (32.14, -24.0),
         (32.61, -25.8), (32.93, -29.3), (33.25, -35.2), (33.56, -42.5), (33.88, -49.8), (34.20, -55.7),
         (34.51, -56.6), (34.83, -52.8), (35.15, -45.4), (35.46, -38.1), (35.78, -33.1), (36.10, -32.3),
         (36.41, -36.7), (36.73, -45.4), (37.05, -52.8), (37.36, -55.7), (37.68, -55.7), (38.00, -51.3),
         (38.31, -45.4), (38.63, -41.0), (38.95, -38.1), (39.26, -42.5), (39.58, -48.4), (39.90, -55.7),
         (40.21, -58.6), (40.53, -58.1), (40.85, -54.2), (41.16, -46.9), (41.48, -41.0), (41.80, -39.6),
         (42.11, -44.0), (42.43, -49.8), (42.75, -57.2), (43.06, -60.1), (43.54, -60.1), (43.85, -55.7),
         (44.17, -49.8), (44.49, -44.0), (44.81, -39.6), (45.12, -38.1), (45.44, -41.0), (45.75, -46.9),
         (46.07, -51.3), (46.39, -54.2), (46.64, -54.2), (46.86, -51.3), (47.18, -45.4), (47.50, -39.6),
         (47.88, -33.7), (48.13, -36.7), (48.45, -42.5), (48.76, -49.8), (49.08, -52.8), (49.40, -51.3),
         (49.71, -49.8), (50.03, -46.9), (50.35, -36.7), (50.66, -29.3), (50.98, -24.9), (51.39, -23.5),
         (51.77, -27.9), (52.09, -32.3), (52.41, -36.7), (52.72, -41.0), (53.04, -45.4), (53.36, -54.2),
         (53.67, -60.1), (53.93, -63.0), (54.15, -57.2), (54.46, -45.4), (54.78, -33.7), (55.00, -30.8),
         (55.19, -31.4), (55.41, -36.7), (55.73, -44.0), (56.05, -51.3), (56.36, -60.1), (56.68, -67.4),
         (57.00, -71.8), (57.25, -66.0), (57.47, -54.2), (57.79, -45.4), (58.11, -39.6), (58.36, -40.2),
         (58.58, -45.4), (58.90, -51.3), (59.21, -63.0), (59.53, -74.8), (59.85, -85.0), (60.16, -89.4),
         (60.42, -80.6), (60.64, -66.0), (60.96, -54.2), (61.21, -49.8), (61.43, -54.2), (61.75, -66.0),
         (62.06, -80.6), (62.38, -98.2), (62.70, -112.9), (62.92, -117.3), (63.17, -109.9), (63.49, -89.4),
         (63.81, -74.8), (63.96, -74.8), (64.19, -83.6), (64.44, -98.2), (64.76, -112.9), (65.07, -124.6),
         (65.39, -129.9), (65.64, -124.6), (65.86, -109.9), (66.18, -89.4), (66.40, -85.0), (66.66, -101.1),
         (66.97, -115.8), (67.29, -123.1), (67.77, -129.0), (68.40, -134.9), (69.03, -140.7), (69.67, -148.1),
         (70.14, -153.9), (70.77, -164.2), (71.41, -174.5), (71.88, -180.3), (71.95, 180.3), (73.31, 153.3),
         (74.89, 123.1), (76.48, 96.8), (78.00, 70.4)]

# ---------------- layout (CSS pixels; the page is shown at about 1.152 device px per CSS px) ----------------
K = 1 / 1.152


def px(v):
    return int(round(v * K))


def fs(v):
    return "%.1fpx" % (v * K)


FRAME_L, FRAME_W, FRAME_R = 839, 2872, 380
FRAME_T, FRAME_H = 145, 792
PANEL_H = 1263
FRAME_B = PANEL_H - FRAME_T - FRAME_H
HEADER_H = 306
TICK_F = fs(72)
LW = px(8)


def style_axis(ax, color, tick_in, tick_out, minor_in, minor_out, standoff):
    ax.axis_line_color = color
    ax.axis_line_width = LW
    ax.major_tick_line_color = color
    ax.major_tick_line_width = LW
    ax.minor_tick_line_color = color
    ax.minor_tick_line_width = LW
    ax.major_tick_in = px(tick_in)
    ax.major_tick_out = px(tick_out)
    ax.minor_tick_in = px(minor_in)
    ax.minor_tick_out = px(minor_out)
    ax.major_label_standoff = px(standoff)
    ax.major_label_text_color = color
    ax.major_label_text_font_size = TICK_F
    ax.major_label_text_font = FONT


def label_style(ax, color, size, standoff):
    ax.axis_label_text_color = color
    ax.axis_label_text_font_size = fs(size)
    ax.axis_label_text_font = FONT
    ax.axis_label_text_font_style = "normal"
    ax.axis_label_standoff = px(standoff)


def make_panel(title, acc, gyro, ang, acc_t, acc_m, acc_l, gyro_t, gyro_m, gyro_l, ang_t, ang_m, ang_l,
               blue_so, spacer, red_so, green_so):
    p = figure(frame_width=FRAME_W, frame_height=FRAME_H, min_border_left=FRAME_L, min_border_right=FRAME_R,
               min_border_top=FRAME_T, min_border_bottom=FRAME_B, title=title,
               x_range=Range1d(time_ticks[0], time_ticks[-1]), y_range=Range1d(acc_t[0], acc_t[-1]),
               x_axis_type=None, y_axis_type=None, toolbar_location=None, output_backend="svg",
               outline_line_color=None, styles={"outline": "5px solid black", "outline-offset": "-5px"})
    p.title.text_font = FONT
    p.title.text_font_size = fs(105)
    p.title.text_font_style = "normal"
    p.title.text_color = "black"
    p.title.align = "left"
    p.title.offset = px(1129)
    p.title.standoff = px(25)
    p.extra_y_ranges = {"gyro": Range1d(gyro_t[0], gyro_t[-1]), "ang": Range1d(ang_t[0], ang_t[-1])}

    gx = Grid(dimension=0, ticker=FixedTicker(ticks=time_ticks[1:-1], minor_ticks=time_minor),
              grid_line_color=GRAY, grid_line_width=px(7), minor_grid_line_color=GRAY,
              minor_grid_line_width=px(7), minor_grid_line_dash="12 8")
    gy = Grid(dimension=1, ticker=FixedTicker(ticks=acc_t[1:-1], minor_ticks=acc_m),
              grid_line_color=GRAY, grid_line_width=px(7), minor_grid_line_color=GRAY,
              minor_grid_line_width=px(7), minor_grid_line_dash="12 8")
    p.add_layout(gx)
    p.add_layout(gy)

    # blue acceleration axis (closest to frame)
    ya = LinearAxis(ticker=FixedTicker(ticks=acc_t, minor_ticks=acc_m),
                    major_label_overrides=dict(zip(acc_t, acc_l)), axis_label=acc_label)
    style_axis(ya, BLUE, 54, 54, 28, 28, 30)
    label_style(ya, BLUE, 80, blue_so)
    p.add_layout(ya, "left")

    # empty spacer between the two left axes
    mid = (acc_t[0] + acc_t[-1]) / 2
    sp = LinearAxis(ticker=FixedTicker(ticks=[mid]), major_label_overrides={mid: ""}, major_tick_out=px(spacer),
                    major_tick_in=0, minor_tick_out=0, minor_tick_in=0, axis_line_color=None,
                    major_tick_line_color=None, minor_tick_line_color=None, major_label_standoff=0,
                    major_label_text_font_size="1px")
    p.add_layout(sp, "left")

    # red angular velocity axis
    yg = LinearAxis(y_range_name="gyro", ticker=FixedTicker(ticks=gyro_t, minor_ticks=gyro_m),
                    major_label_overrides=dict(zip(gyro_t, gyro_l)), axis_label=gyro_label)
    style_axis(yg, RED, 53, 0, 29, 0, 28)
    label_style(yg, RED, 80, red_so)
    p.add_layout(yg, "left")

    # green angle axis
    yr = LinearAxis(y_range_name="ang", ticker=FixedTicker(ticks=ang_t, minor_ticks=ang_m),
                    major_label_overrides=dict(zip(ang_t, ang_l)))
    style_axis(yr, GREEN, 0, 55, 0, 28, 41)
    p.add_layout(yr, "right")

    # green axis title, drawn as a single rotated tick label (text starts at the tick)
    gmid = (ang_t[0] + ang_t[-1]) / 2 - (ang_t[-1] - ang_t[0]) * 143 / FRAME_H
    gl = LinearAxis(y_range_name="ang", ticker=FixedTicker(ticks=[gmid]), major_label_overrides={gmid: angle_label},
                    major_label_orientation=math.pi / 2, major_tick_out=0, major_tick_in=0, minor_tick_out=0,
                    minor_tick_in=0, axis_line_color=None, major_tick_line_color=None, minor_tick_line_color=None,
                    major_label_standoff=px(green_so), major_label_text_color=GREEN,
                    major_label_text_font_size=fs(80), major_label_text_font=FONT)
    p.add_layout(gl, "right")

    # time axis
    xa = LinearAxis(ticker=FixedTicker(ticks=time_ticks, minor_ticks=time_minor),
                    major_label_overrides=dict(zip(time_ticks, time_tick_labels)), axis_label=time_label)
    style_axis(xa, "black", 54, 54, 29, 27, 66)
    label_style(xa, "black", 76, -19)
    p.add_layout(xa, "below")

    # data
    p.line([a for a, _ in acc], [b for _, b in acc], line_color=BLUE, line_width=4.5, line_join="round")
    p.line([a for a, _ in gyro], [b for _, b in gyro], line_color=RED, line_width=4.5, line_join="round",
           y_range_name="gyro")
    p.line([a for a, _ in ang], [b for _, b in ang], line_color=GREEN, line_width=4.5, line_join="round",
           y_range_name="ang")

    # stem of the acceleration-axis arrow: tee head of a short arrow along the top edge of the frame
    p.add_layout(Arrow(start_units="screen", end_units="screen", x_start=20, y_start=FRAME_H, x_end=0,
                       y_end=FRAME_H, line_color=BLUE, line_width=1,
                       end=TeeHead(size=2 * px(62), line_color=BLUE, line_width=LW)))
    # arrow tips
    p.add_layout(Arrow(start_units="screen", end_units="screen", x_start=0, y_start=FRAME_H, x_end=0,
                       y_end=FRAME_H + px(89), line_color=BLUE, line_width=LW,
                       end=NormalHead(size=px(38), fill_color=BLUE, line_color=BLUE, line_width=2)))
    p.add_layout(Arrow(start_units="screen", end_units="screen", x_start=FRAME_W, y_start=0,
                       x_end=FRAME_W + px(90), y_end=0, line_color="black", line_width=LW,
                       end=NormalHead(size=px(32), fill_color="black", line_color="black", line_width=2)))
    return p


header = figure(frame_width=FRAME_W, frame_height=HEADER_H, min_border_left=FRAME_L, min_border_right=FRAME_R,
                min_border_top=0, min_border_bottom=0, x_range=Range1d(0, 1), y_range=Range1d(0, 1),
                x_axis_type=None, y_axis_type=None, toolbar_location=None, output_backend="svg",
                outline_line_color=None)
header.add_layout(Label(x=px(1393), y=px(153), x_units="screen", y_units="screen", text=legend_labels[0],
                        text_align="left", text_baseline="alphabetic", text_font_size=fs(92), text_font=FONT,
                        text_font_style="bold", text_color="black"))
header.add_layout(Label(x=px(2159), y=px(153), x_units="screen", y_units="screen", text=legend_labels[1],
                        text_align="left", text_baseline="alphabetic", text_font_size=fs(92), text_font=FONT,
                        text_font_style="bold", text_color="black"))

p1 = make_panel(panel_titles[0], x_acc, x_gyro, x_ang, x_acc_ticks, x_acc_minor, x_acc_labels,
                x_gyro_ticks, x_gyro_minor, x_gyro_labels, x_ang_ticks, x_ang_minor, x_ang_labels,
                -55, 169, 16, 92)
p2 = make_panel(panel_titles[1], y_acc, y_gyro, y_ang, y_acc_ticks, y_acc_minor, y_acc_labels,
                y_gyro_ticks, y_gyro_minor, y_gyro_labels, y_ang_ticks, y_ang_minor, y_ang_labels,
                -55, 169, -30, 92)
p3 = make_panel(panel_titles[2], z_acc, z_gyro, z_ang, z_acc_ticks, z_acc_minor, z_acc_labels,
                z_gyro_ticks, z_gyro_minor, z_gyro_labels, z_ang_ticks, z_ang_minor, z_ang_labels,
                -49, 224, 16, 46)

layout = column(header, p1, p2, p3, spacing=0)
open("out.html", "w").write(file_html(layout, INLINE))
